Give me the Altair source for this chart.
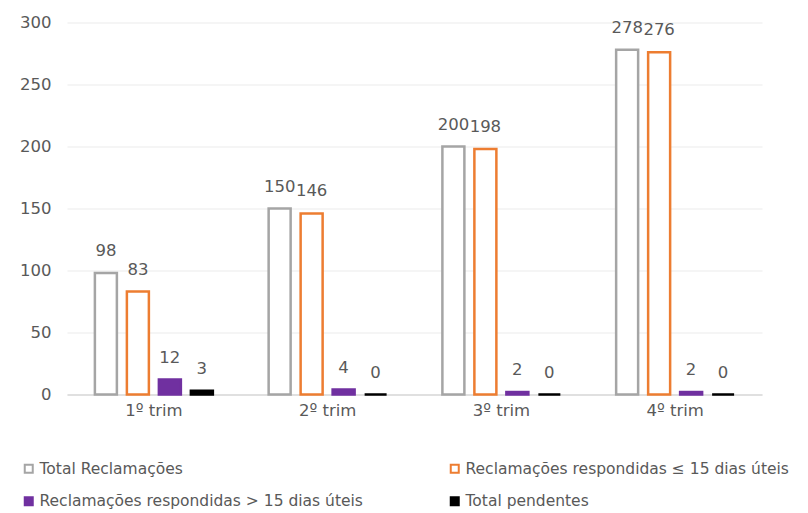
import altair as alt
import pandas as pd

quarters = ["1º trim", "2º trim", "3º trim", "4º trim"]
series = [
    "Total Reclamações",
    "Reclamações respondidas ≤ 15 dias úteis",
    "Reclamações respondidas > 15 dias úteis",
    "Total pendentes",
]
total = [98, 150, 200, 278]
ate15 = [83, 146, 198, 276]
mais15 = [12, 4, 2, 2]
pendentes = [3, 0, 0, 0]

fills = ["#ffffff", "#ffffff", "#7030a0", "#000000"]
strokes = ["#a5a5a5", "#ed7d31", "#7030a0", "#000000"]

rows = []
for s, vals in zip(series, [total, ate15, mais15, pendentes]):
    for q, v in zip(quarters, vals):
        rows.append({"trim": q, "serie": s, "valor": v})
df = pd.DataFrame(rows)

FONT = "DejaVu Sans"
TXT = "#595959"
FS = 16.5

x = alt.X("trim:N", sort=quarters, title=None,
          scale=alt.Scale(paddingInner=0.321, paddingOuter=0.1605),
          axis=alt.Axis(labelAngle=0, labelFontSize=FS, labelColor=TXT, labelFont=FONT,
                        labelPadding=8, ticks=False, domainColor="#d9d9d9", domainWidth=1.5,
                        grid=False))
xo = alt.XOffset("serie:N", sort=series,
                 scale=alt.Scale(paddingInner=0.3125, paddingOuter=0))
y = alt.Y("valor:Q", title=None,
          scale=alt.Scale(domain=[0, 300]),
          axis=alt.Axis(values=[0, 50, 100, 150, 200, 250, 300], labelFontSize=FS,
                        labelColor=TXT, labelFont=FONT, labelPadding=16, ticks=False,
                        domain=False, gridColor="#ebebeb", gridWidth=1.2))

bars = alt.Chart(df).mark_bar(strokeWidth=2.5).encode(
    x=x, xOffset=xo, y=y,
    fill=alt.Fill("serie:N", sort=series, title=None,
                  scale=alt.Scale(domain=series, range=fills),
                  legend=alt.Legend(orient="none", legendX=-46, legendY=438, columns=2,
                                    direction="horizontal",
                                    symbolType="square", symbolSize=64, symbolStrokeWidth=2,
                                    labelFontSize=15.5, labelColor=TXT, labelFont=FONT,
                                    labelOffset=3, rowPadding=15, columnPadding=83,
                                    labelLimit=500)),
    stroke=alt.Stroke("serie:N", sort=series, title=None,
                      scale=alt.Scale(domain=series, range=strokes)),
)

labels = alt.Chart(df).mark_text(fontSize=FS, font=FONT, color=TXT, baseline="alphabetic",
                                 dy=-17).encode(
    x=x, xOffset=xo, y=y, text="valor:Q"
)

chart = alt.layer(bars, labels).properties(
    width=695, height=372,
    autosize=alt.AutoSizeParams(type="none"),
    padding={"left": 59, "top": 14.5, "right": 38, "bottom": 118},
).configure_view(stroke=None)

chart.save("out.html", embed_options={"renderer": "svg", "actions": False})
